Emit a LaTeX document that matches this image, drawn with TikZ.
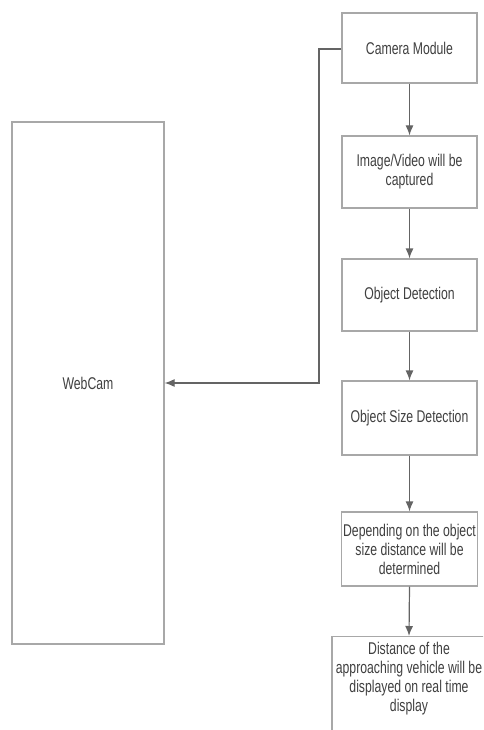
\documentclass[tikz,border=0pt]{standalone}
\usepackage{fontspec}
\setmainfont[FakeStretch=0.72]{Liberation Sans}
\usetikzlibrary{arrows.meta}
\definecolor{boxline}{HTML}{A8A8A8}
\definecolor{wireline}{HTML}{646464}
\definecolor{textgray}{HTML}{404040}
\begin{document}
\begin{tikzpicture}[x=1pt,y=-1pt,%
% common options for the flow boxes:
stage/.style = {draw=boxline, line width=1.2pt, fill=white, align=center,
            minimum width=135pt, minimum height=72pt, inner sep=2pt,
            text=textgray, font=\fontsize{17}{19}\selectfont},
% common options for the connectors:
wire/.style = {draw=wireline, line width=1.2pt,
            -{Latex[length=10pt,width=8pt]}}]
\useasboundingbox (0,0) rectangle (483,730);
\clip (0,0) rectangle (483,730);
\node[stage,minimum width=152pt,minimum height=522pt] (Cam) at (88,383) {WebCam};
\node[stage,minimum height=70pt] (S1) at (409.5,48) {Camera Module};
\node[stage] (S2) at (409.5,172) {Image/Video will be\\captured};
\node[stage] (S3) at (409.5,295) {Object Detection};
\node[stage,minimum height=74pt] (S4) at (409.5,418) {Object Size Detection};
\node[stage,minimum height=74pt] (S5) at (409.5,549) {Depending on the object\\size distance will be\\determined};
\node[stage,minimum width=154pt,minimum height=120pt,anchor=north,
      text depth=40pt] (S6) at (409,636) {Distance of the\\approaching vehicle will be\\displayed on real time\\display};
\coordinate (T1) at (319,49);
\coordinate (T2) at (319,383);
\draw[wire] (S1.west |- T1) -- (T1) -- (T2) -- (Cam.east |- T2);
\draw[wire] (S1.south) -- (S2.north);
\draw[wire] (S2.south) -- (S3.north);
\draw[wire] (S3.south) -- (S4.north);
\draw[wire] (S4.south) -- (S5.north);
\draw[wire] (S5.south) -- (S6.north);
\end{tikzpicture}
\end{document}
